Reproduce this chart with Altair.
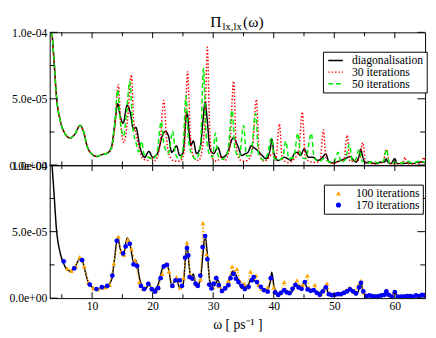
import altair as alt
import pandas as pd

UNIT = 1e-5  # all series values below are in units of 1e-5

diag_x = [3.0, 3.38, 3.74, 4.10, 4.79, 5.58, 6.37, 7.16, 8.04, 8.57,
          9.25, 10.30, 10.82, 11.61, 12.40, 13.19, 13.66, 14.24, 14.60, 15.12,
          15.81, 16.33, 16.85, 17.23, 17.91, 18.70, 19.37, 20.0, 20.79, 21.58,
          22.11, 22.63, 23.15, 23.94, 24.47, 24.99, 25.67, 26.05, 26.3, 26.72,
          27.24, 27.87, 28.3, 28.66, 29.04, 29.45, 30.08, 30.77, 31.45, 32.08,
          32.6, 33.13, 33.38, 33.81, 34.17, 34.71, 35.23, 35.75, 36.28, 36.64,
          37.07, 37.59, 38.11, 38.74, 39.43, 39.68, 40.06, 40.74, 41.79, 42.31,
          42.83, 43.37, 43.88, 44.4, 45.03, 45.73, 46.51, 47.3, 48.09, 48.6,
          49.13, 49.91, 50.7, 51.76, 52.66, 52.97, 53.6, 54.12, 54.39, 54.64,
          55.17, 55.69, 56.21, 57.0, 57.53, 58.32, 58.57, 58.84, 59.36, 59.99,
          60.41, 61.47, 62.26, 63.04, 63.56, 64.62, 65.0]
diag_y = [13.5, 10.1, 7.7, 5.26, 3.28, 2.34, 2.04, 2.34, 3.0, 2.55,
          1.34, 0.73, 0.66, 0.8, 0.88, 1.34, 2.77, 4.62, 3.8, 3.16,
          4.53, 3.9, 2.7, 2.85, 1.34, 0.6, 1.04, 0.6, 0.88, 2.19,
          2.55, 2.19, 0.97, 1.46, 0.73, 0.88, 4.0, 2.34, 1.5, 1.82,
          0.88, 1.34, 3.28, 4.74, 3.28, 1.24, 0.88, 1.34, 0.58, 0.73,
          1.24, 1.97, 2.07, 1.7, 1.34, 0.73, 0.85, 0.97, 1.46, 1.34,
          1.22, 0.97, 0.73, 0.49, 1.22, 1.95, 0.85, 0.36, 0.6, 0.49,
          0.36, 0.85, 0.97, 0.73, 1.22, 0.6, 0.6, 0.36, 0.6, 0.85,
          0.24, 0.17, 0.3, 0.49, 0.66, 0.49, 0.24, 0.73, 1.22, 0.73,
          0.17, 0.24, 0.17, 0.12, 0.22, 0.24, 0.49, 0.24, 0.12, 0.49,
          0.12, 0.12, 0.17, 0.12, 0.22, 0.24, 0.15]

# low-frequency part where all three top curves coincide
shared_x = [3.0, 3.38, 3.74, 4.10, 4.79, 5.58, 6.37, 7.16, 8.04, 8.57,
            9.25, 10.30, 10.82, 11.61, 12.40]
shared_y = [13.5, 10.1, 7.7, 5.26, 3.28, 2.34, 2.04, 2.34, 3.0, 2.55,
            1.34, 0.73, 0.66, 0.8, 0.88]

it30_x = shared_x + [
    13.2, 13.75, 14.33, 14.75, 15.28, 15.8, 16.49, 16.9, 17.3, 17.8,
    18.4, 19.2, 19.7, 20.4, 21.2, 21.84, 22.3, 22.9, 23.7, 24.5,
    25.2, 25.78, 26.2, 26.8, 27.6, 28.3, 28.7, 29.04, 29.4, 29.9,
    30.6, 31.3, 31.9, 32.7, 33.38, 33.8, 34.4, 35.2, 36.0, 36.6,
    37.12, 37.6, 38.4, 39.3, 39.8, 40.3, 40.94, 41.4, 42.4, 43.4,
    44.1, 44.72, 45.2, 45.9, 46.8, 47.7, 48.18, 48.7, 49.8, 50.8,
    51.6, 52.12, 52.6, 53.6, 54.2, 54.7, 55.2, 56.7, 58.0, 58.64,
    59.1, 60.5, 61.3, 61.67, 62.0, 63.5, 64.4, 64.8, 65.0]
it30_y = shared_y + [
    1.2, 2.8, 6.08, 3.0, 1.7, 3.2, 6.81, 3.2, 2.3, 1.2,
    0.5, 0.36, 0.6, 0.35, 1.5, 4.87, 2.0, 0.6, 0.3, 0.3,
    1.0, 7.06, 2.5, 0.6, 0.35, 1.5, 4.0, 8.88, 3.0, 0.5,
    0.3, 0.6, 0.35, 1.2, 6.33, 1.5, 0.4, 0.3, 0.5, 1.8,
    4.95, 1.0, 0.3, 0.6, 0.9, 0.4, 3.1, 0.5, 0.2, 0.5,
    1.0, 4.0, 0.6, 0.3, 0.2, 0.4, 2.65, 0.4, 0.15, 0.3,
    0.4, 2.25, 0.3, 0.3, 0.5, 1.7, 0.2, 0.1, 0.2, 1.2,
    0.15, 0.1, 0.2, 0.6, 0.1, 0.1, 0.2, 0.6, 0.3]

it50_x = shared_x + [
    13.2, 13.7, 14.24, 14.6, 15.2, 15.7, 16.22, 16.7, 17.3, 17.7,
    18.2, 18.6, 19.3, 20.0, 20.7, 21.42, 21.9, 22.6, 23.31, 23.8,
    24.5, 25.0, 25.51, 25.9, 26.5, 27.2, 27.9, 28.41, 28.8, 29.4,
    29.9, 30.39, 30.8, 31.5, 32.4, 33.13, 33.6, 34.3, 35.02, 35.5,
    36.2, 37.0, 37.5, 38.3, 38.9, 39.63, 40.1, 40.8, 41.5, 42.0,
    42.5, 43.3, 44.0, 44.5, 45.3, 46.2, 46.7, 47.6, 48.3, 49.0,
    49.9, 50.65, 51.1, 51.8, 52.5, 53.0, 53.5, 54.07, 54.6, 55.5,
    56.5, 57.3, 58.1, 58.64, 59.1, 60.2, 61.0, 62.0, 63.0, 64.0, 65.0]
it50_y = shared_y + [
    1.3, 2.9, 5.67, 3.6, 2.2, 4.0, 6.33, 3.0, 1.6, 1.0,
    1.8, 0.8, 0.6, 0.45, 0.9, 3.28, 1.5, 0.9, 2.55, 0.8,
    0.45, 1.2, 5.23, 2.0, 0.8, 0.45, 1.5, 7.3, 2.5, 0.8,
    0.6, 2.43, 0.7, 0.45, 1.0, 4.14, 1.2, 0.6, 3.0, 0.7,
    0.7, 3.9, 0.8, 0.4, 0.7, 2.05, 0.5, 0.4, 0.6, 1.8,
    0.5, 0.6, 2.4, 0.6, 0.5, 2.4, 0.5, 0.3, 0.5, 0.3,
    0.2, 0.97, 0.2, 0.4, 1.57, 0.3, 0.4, 1.2, 0.3, 0.15,
    0.3, 0.15, 0.3, 1.2, 0.15, 0.2, 0.15, 0.3, 0.15, 0.3, 0.2]

it100_x = [5.9, 6.6, 7.3, 7.94, 8.7, 9.4, 10.2, 10.93, 11.6, 12.29,
           12.9, 13.6, 14.33, 14.8, 15.28, 15.9, 16.5, 17.12, 17.8, 18.4,
           19.37, 20.0, 20.6, 21.0, 21.58, 22.2, 22.7, 23.3, 23.94, 24.5,
           25.1, 25.67, 26.2, 26.8, 27.3, 27.9, 28.3, 28.9, 29.5, 30.0,
           30.5, 31.0, 31.5, 32.0, 32.5, 33.13, 33.5, 33.92, 34.4, 34.8,
           35.12, 35.6, 36.17, 36.6, 37.07, 37.5, 38.0, 38.5, 39.0, 39.5,
           40.0, 40.5, 41.0, 41.73, 42.1, 42.6, 43.1, 43.84, 44.3, 44.8,
           45.57, 45.9, 46.3, 46.8, 47.3, 47.8, 48.3, 48.8, 49.3, 49.9,
           50.5, 51.0, 51.5, 52.0, 52.5, 53.0, 53.5, 54.0, 54.4, 54.9,
           55.5, 56.2, 56.9, 57.6, 58.3, 58.6, 59.2, 59.9, 60.5, 61.3,
           62.0, 62.7, 63.5, 64.2, 64.9]
it100_y = [2.23, 2.05, 2.4, 3.09, 2.4, 1.2, 0.75, 0.68, 0.78, 0.82,
           1.0, 2.6, 4.62, 3.5, 3.26, 4.4, 3.7, 2.8, 1.2, 0.7,
           1.14, 0.62, 0.55, 0.85, 1.82, 2.6, 2.0, 0.95, 1.58, 0.8,
           1.5, 4.18, 1.8, 1.5, 1.0, 1.4, 5.64, 3.3, 1.0, 0.8,
           1.6, 0.9, 0.55, 0.8, 1.3, 2.38, 1.9, 2.19, 1.3, 0.9,
           1.09, 0.8, 1.99, 1.5, 1.7, 1.0, 0.7, 0.6, 0.8, 1.6,
           0.8, 0.4, 0.35, 1.21, 0.5, 0.45, 0.8, 1.34, 0.9, 1.0,
           1.7, 0.7, 0.6, 1.0, 0.4, 0.3, 0.6, 1.1, 0.3, 0.25,
           0.35, 0.3, 0.4, 0.6, 0.8, 0.6, 0.5, 1.0, 1.3, 0.4,
           0.15, 0.2, 0.15, 0.2, 0.3, 0.6, 0.2, 0.4, 0.15, 0.15,
           0.2, 0.15, 0.2, 0.2, 0.3]

it170_x = [5.31, 7.05, 8.35, 9.61, 10.71, 11.61, 12.51, 13.34, 14.08, 15.12,
           15.55, 16.22, 16.85, 17.44, 18.07, 18.59, 19.28, 19.85, 20.38, 20.9,
           21.32, 21.84, 22.36, 23.26, 23.78, 24.47, 24.84, 25.36, 25.67, 25.89,
           26.1, 26.57, 27.09, 27.46, 27.87, 28.25, 28.66, 29.04, 29.35, 29.72,
           30.08, 30.5, 30.93, 31.45, 31.97, 32.5, 32.86, 33.38, 33.76, 34.17,
           34.71, 35.23, 35.86, 36.38, 36.69, 37.23, 37.86, 38.37, 39.0, 39.52,
           40.22, 40.74, 41.2, 41.73, 42.15, 42.6, 43.1, 43.57, 44.1, 44.6,
           45.15, 45.6, 46.1, 46.6, 47.1, 47.6, 48.1, 48.6, 49.1, 49.6,
           50.1, 50.6, 51.1, 51.6, 52.1, 52.6, 53.1, 53.6, 54.1, 54.4,
           54.8, 55.3, 55.8, 56.3, 56.8, 57.3, 57.8, 58.3, 58.6, 59.0,
           59.5, 60.0, 60.5, 61.0, 61.5, 62.0, 62.5, 63.0, 63.5, 64.0,
           64.5, 64.9]
it170_y = [2.77, 2.23, 2.85, 1.02, 0.68, 0.82, 0.92, 1.7, 4.31, 3.36,
           3.89, 4.09, 2.53, 2.41, 0.92, 0.68, 1.07, 0.68, 0.48, 0.75,
           1.5, 2.38, 2.5, 0.92, 1.34, 1.34, 0.92, 3.04, 3.77, 3.21,
           1.58, 1.46, 1.09, 0.92, 1.7, 3.84, 4.67, 2.92, 1.02, 0.73,
           1.09, 1.5, 0.97, 0.53, 0.73, 0.97, 1.5, 1.82, 1.46, 1.21,
           0.92, 0.68, 0.85, 1.34, 1.58, 1.21, 0.85, 0.61, 0.48, 1.5,
           0.44, 0.24, 0.4, 0.6, 0.44, 0.37, 0.7, 1.0, 0.8, 0.7,
           1.21, 0.65, 0.55, 0.6, 0.4, 0.25, 0.5, 0.8, 0.3, 0.22,
           0.25, 0.3, 0.3, 0.4, 0.5, 0.65, 0.5, 0.35, 0.8, 1.15,
           0.5, 0.15, 0.2, 0.15, 0.12, 0.15, 0.2, 0.25, 0.5, 0.25,
           0.12, 0.45, 0.12, 0.12, 0.12, 0.15, 0.15, 0.12, 0.2, 0.15,
           0.24, 0.2]

top_names = ["diagonalisation", "30 iterations", "50 iterations"]
top_colors = ["#000000", "#ff0000", "#00ee00"]
top_dashes = [[1, 0], [1.5, 2], [5, 3]]
bottom_names = ["100 iterations", "170 iterations"]
bottom_colors = ["#ffa500", "#0000ff"]
bottom_shapes = ["triangle-up", "circle"]

x_domain = [3, 65]
y_domain = [0, 1e-4]
x_major = [10, 20, 30, 40, 50, 60]
x_minor = [5, 15, 25, 35, 45, 55]
y_major = [0, 5e-5, 1e-4]
y_minor = [2.5e-5, 7.5e-5]
y_labels = ["0.0e+00", "5.0e-05", "1.0e-04"]
title_parts = ["\u03a0", "lx,lx", "(\u03c9)"]
x_title = "\u03c9 [ ps\u207b\u00b9 ]"

FONT = "Liberation Serif"
W, H1, H2 = 387, 137, 137


def frame(xs, ys):
    return pd.DataFrame({"x": xs, "y": [v * UNIT for v in ys]})


top_df = pd.concat(
    [frame(x, y).assign(series=n) for n, x, y in
     zip(top_names, [diag_x, it30_x, it50_x], [diag_y, it30_y, it50_y])],
    ignore_index=True)
diag_df = frame(diag_x, diag_y)
orange_df = frame(it100_x, it100_y)
pts_df = pd.concat(
    [frame(x, y).assign(series=n) for n, x, y in
     zip(bottom_names, [it100_x, it170_x], [it100_y, it170_y])],
    ignore_index=True)

xsc = alt.Scale(domain=x_domain, nice=False, zero=False)
ysc = alt.Scale(domain=y_domain, nice=False)

label_expr = " : ".join(
    f"abs(datum.value - {v}) < 1e-9 ? '{t}'" for v, t in zip(y_major, y_labels)
) + " : ''"

y_axis = alt.Axis(values=y_major, labelExpr=label_expr, ticks=False, domain=False,
                  grid=False, title=None, labelFont=FONT, labelFontSize=12,
                  labelColor="black", labelPadding=3)
x_axis = alt.Axis(values=x_major, format="d", ticks=False, domain=False, grid=False,
                  labelFont=FONT, labelFontSize=12, labelColor="black",
                  labelPadding=3, labelFlush=False, title=x_title,
                  titleFont=FONT, titleFontSize=14, titleFontWeight="normal",
                  titleColor="black", titlePadding=6)


def ticks(h, xax, yax):
    layers = []
    for vals, n in [(x_major, 6), (x_minor, 4)]:
        d = pd.DataFrame({"x": vals})
        base = alt.Chart(d).mark_rule(color="black", strokeWidth=1)
        layers.append(base.encode(x=alt.X("x:Q", scale=xsc, axis=xax),
                                  y=alt.value(0), y2=alt.value(n)))
        layers.append(base.encode(x=alt.X("x:Q", scale=xsc, axis=xax),
                                  y=alt.value(h), y2=alt.value(h - n)))
    for vals, n in [(y_major, 8), (y_minor, 5)]:
        d = pd.DataFrame({"y": vals})
        base = alt.Chart(d).mark_rule(color="black", strokeWidth=1)
        layers.append(base.encode(y=alt.Y("y:Q", scale=ysc, axis=yax),
                                  x=alt.value(0), x2=alt.value(n)))
        layers.append(base.encode(y=alt.Y("y:Q", scale=ysc, axis=yax),
                                  x=alt.value(W), x2=alt.value(W - n)))
    return layers


# a 15 px horizontal stroke symbol whose layout cell stays 9 px tall
legend_top = alt.Legend(title=None, orient="none", legendX=W * 282 / 393 + 4, legendY=20,
                        symbolType="M-1.67,0L1.67,0", symbolSize=81,
                        symbolStrokeWidth=1.5, symbolOffset=4,
                        labelFont=FONT, labelFontSize=12, labelColor="black",
                        strokeColor="black", fillColor="white", padding=3,
                        rowPadding=0, labelOffset=11)

lines = alt.Chart(top_df).mark_line(clip=True, strokeWidth=1.5, interpolate="monotone").encode(
    x=alt.X("x:Q", scale=xsc, axis=None),
    y=alt.Y("y:Q", scale=ysc, axis=y_axis),
    color=alt.Color("series:N", scale=alt.Scale(domain=top_names, range=top_colors),
                    legend=legend_top),
    strokeDash=alt.StrokeDash("series:N", scale=alt.Scale(domain=top_names, range=top_dashes),
                              legend=legend_top),
)

title_layers = []
for txt, fx, fs, dy in zip(title_parts, [0.4275, 0.4605, 0.515], [16, 11, 16], [-6, -2, -6]):
    title_layers.append(
        alt.Chart(pd.DataFrame({"t": [txt]})).mark_text(
            align="left", baseline="alphabetic", font=FONT, fontSize=fs, color="black"
        ).encode(text="t:N", x=alt.value(W * fx), y=alt.value(dy))
    )

top = alt.layer(lines, *ticks(H1, None, y_axis), *title_layers).properties(width=W, height=H1)

legend_bot = alt.Legend(title=None, orient="none", legendX=W * 283 / 393 + 4, legendY=20,
                        symbolSize=28, labelFont=FONT, labelFontSize=12,
                        labelColor="black", strokeColor="black", fillColor="white",
                        padding=3, rowPadding=0, labelOffset=12, symbolOffset=6)

black_line = alt.Chart(diag_df).mark_line(clip=True, color="black", strokeWidth=1.5,
                                          interpolate="monotone").encode(
    x=alt.X("x:Q", scale=xsc, axis=x_axis),
    y=alt.Y("y:Q", scale=ysc, axis=y_axis),
)
orange_line = alt.Chart(orange_df).mark_line(clip=True, color="#ffa500", strokeWidth=1.2,
                                             strokeDash=[1.5, 2]).encode(
    x=alt.X("x:Q", scale=xsc, axis=x_axis),
    y=alt.Y("y:Q", scale=ysc, axis=y_axis),
)
points = alt.Chart(pts_df).mark_point(filled=True, size=24, opacity=1, clip=True).encode(
    x=alt.X("x:Q", scale=xsc, axis=x_axis),
    y=alt.Y("y:Q", scale=ysc, axis=y_axis),
    color=alt.Color("series:N", scale=alt.Scale(domain=bottom_names, range=bottom_colors),
                    legend=legend_bot),
    shape=alt.Shape("series:N", scale=alt.Scale(domain=bottom_names, range=bottom_shapes),
                    legend=legend_bot),
)

bottom = alt.layer(black_line, orange_line, points, *ticks(H2, x_axis, y_axis)).properties(
    width=W, height=H2)

chart = alt.vconcat(top, bottom, spacing=0, bounds="flush").resolve_scale(
    color="independent", strokeDash="independent", shape="independent"
).resolve_legend(
    color="independent", strokeDash="independent", shape="independent"
).properties(
    padding=0
).configure(padding=0).configure_view(stroke="black", strokeWidth=1)

chart.save("out.html", embed_options={"renderer": "svg", "actions": False})
